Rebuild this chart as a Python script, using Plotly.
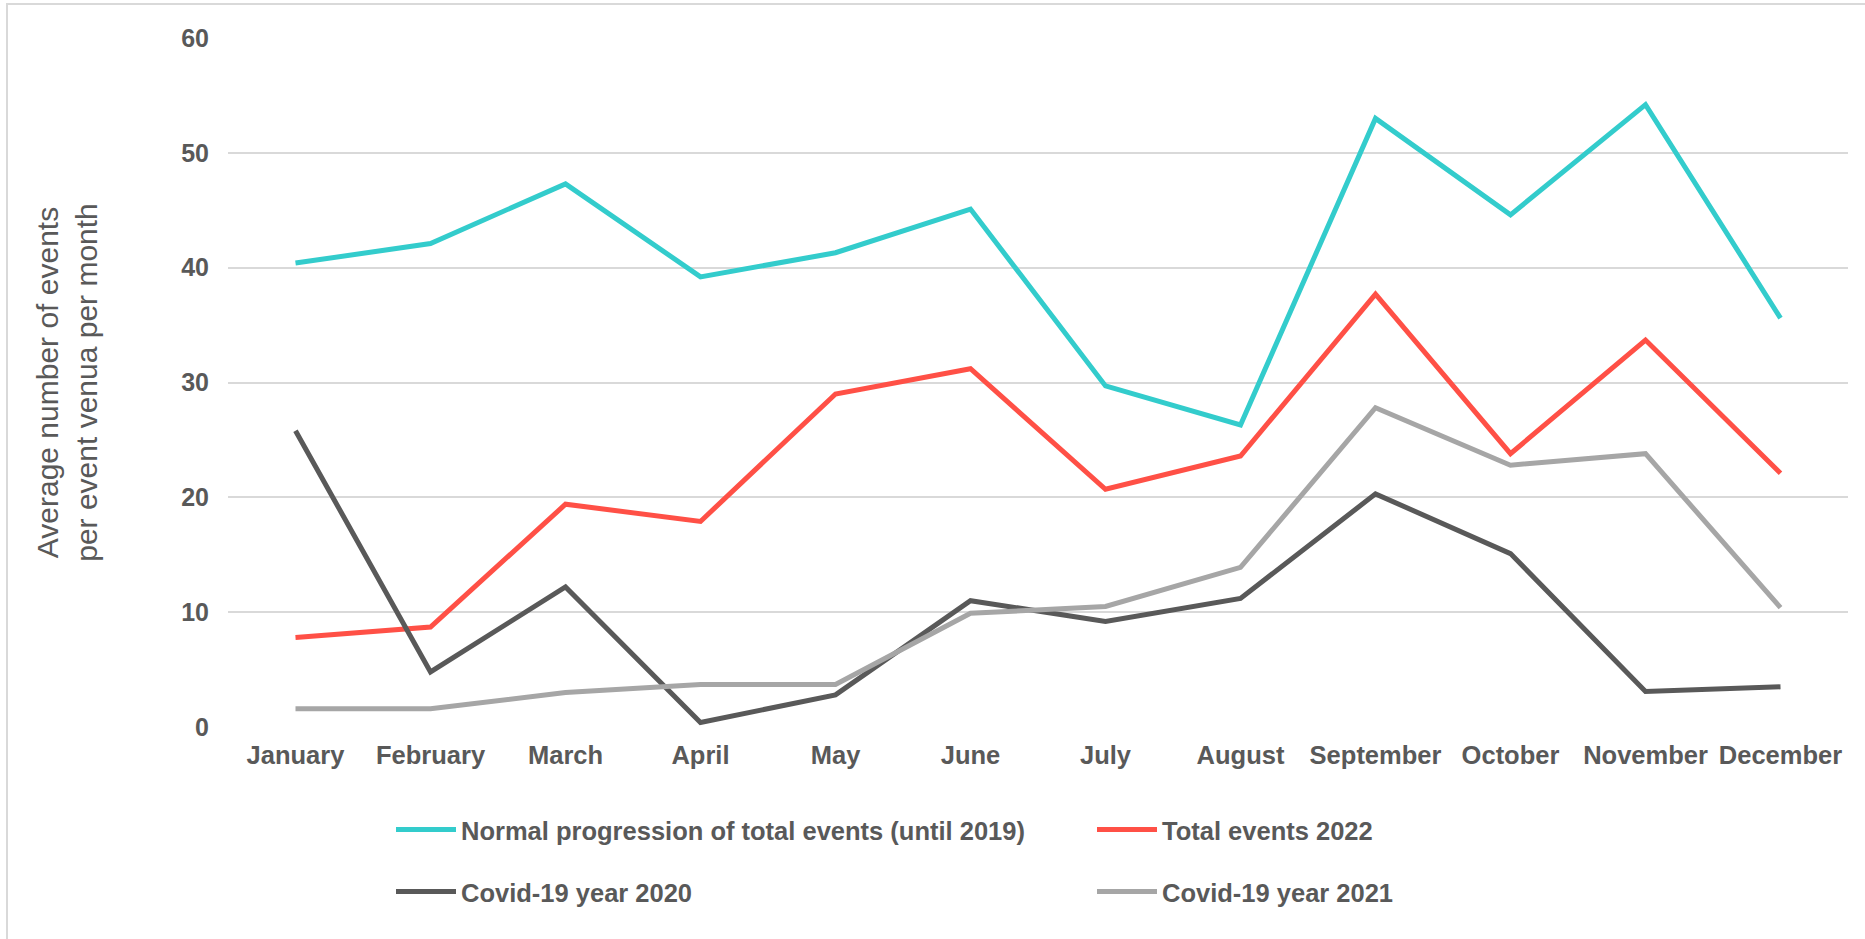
import plotly.graph_objects as go

months = ["January", "February", "March", "April", "May", "June", "July",
          "August", "September", "October", "November", "December"]

normal_until_2019 = [40.4, 42.1, 47.3, 39.2, 41.3, 45.1, 29.7, 26.3, 53.0, 44.6, 54.2, 35.6]
total_2022 = [7.8, 8.7, 19.4, 17.9, 29.0, 31.2, 20.7, 23.6, 37.7, 23.8, 33.7, 22.1]
covid_2020 = [25.8, 4.8, 12.2, 0.4, 2.8, 11.0, 9.2, 11.2, 20.3, 15.1, 3.1, 3.5]
covid_2021 = [1.6, 1.6, 3.0, 3.7, 3.7, 9.9, 10.5, 13.9, 27.8, 22.8, 23.8, 10.4]

y_ticks = [0, 10, 20, 30, 40, 50, 60]

TEXT = "#595959"
FONT = "Liberation Sans, Arial, sans-serif"

fig = go.Figure()
series = [
    ("Normal progression of total events (until 2019)", normal_until_2019, "#33CCCC", "legend"),
    ("Total events 2022", total_2022, "#FF5046", "legend"),
    ("Covid-19 year 2020", covid_2020, "#595959", "legend2"),
    ("Covid-19 year 2021", covid_2021, "#A6A6A6", "legend2"),
]
for name, vals, col, lg in series:
    fig.add_trace(go.Scatter(
        x=months, y=vals, name=name, mode="lines",
        line=dict(color=col, width=5), legend=lg,
    ))

W, H = 1865, 939
L, R, T, B = 228, 17, 38, 212
pw, ph = W - L - R, H - T - B

def px_x(x):
    return (x - L) / pw

def px_y(y):
    return (H - B - y) / ph

legend_common = dict(
    orientation="h", xanchor="left", yanchor="middle",
    xref="container", yref="container",
    font=dict(family=FONT, size=25.5, color=TEXT, weight="bold"),
    entrywidth=626, entrywidthmode="pixels", itemwidth=60,
    bgcolor="rgba(0,0,0,0)", tracegroupgap=0,
)

fig.update_layout(
    width=W, height=H,
    margin=dict(l=L, r=R, t=T, b=B, pad=0, autoexpand=False),
    paper_bgcolor="white", plot_bgcolor="white",
    font=dict(family=FONT, color=TEXT),
    xaxis=dict(
        range=[-0.5, 11.5], automargin=False,
        showgrid=False, showline=False, zeroline=False, ticks="",
        tickfont=dict(family=FONT, size=25.5, color=TEXT, weight="bold"),
        ticklabelstandoff=10,
    ),
    yaxis=dict(
        range=[0, 60], tickvals=y_ticks, showgrid=True, gridcolor="#D9D9D9",
        gridwidth=2, zeroline=False, showline=False, ticks="", automargin=False,
        tickfont=dict(family=FONT, size=25, color=TEXT, weight="bold"),
        ticklabelstandoff=18,
        title=dict(text="Average number of events<br>per event venua per month",
                   font=dict(family=FONT, size=30, color=TEXT), standoff=74),
    ),
    legend=dict(x=391 / W, y=1 - 830 / H, **legend_common),
    legend2=dict(x=391 / W, y=1 - 892 / H, **legend_common),
    shapes=[dict(type="rect", xref="paper", yref="paper",
                 x0=px_x(7), x1=px_x(1880), y0=px_y(950), y1=px_y(4),
                 line=dict(color="#D9D9D9", width=2), fillcolor="rgba(0,0,0,0)",
                 layer="below")],
)

fig.write_html("out.html")
